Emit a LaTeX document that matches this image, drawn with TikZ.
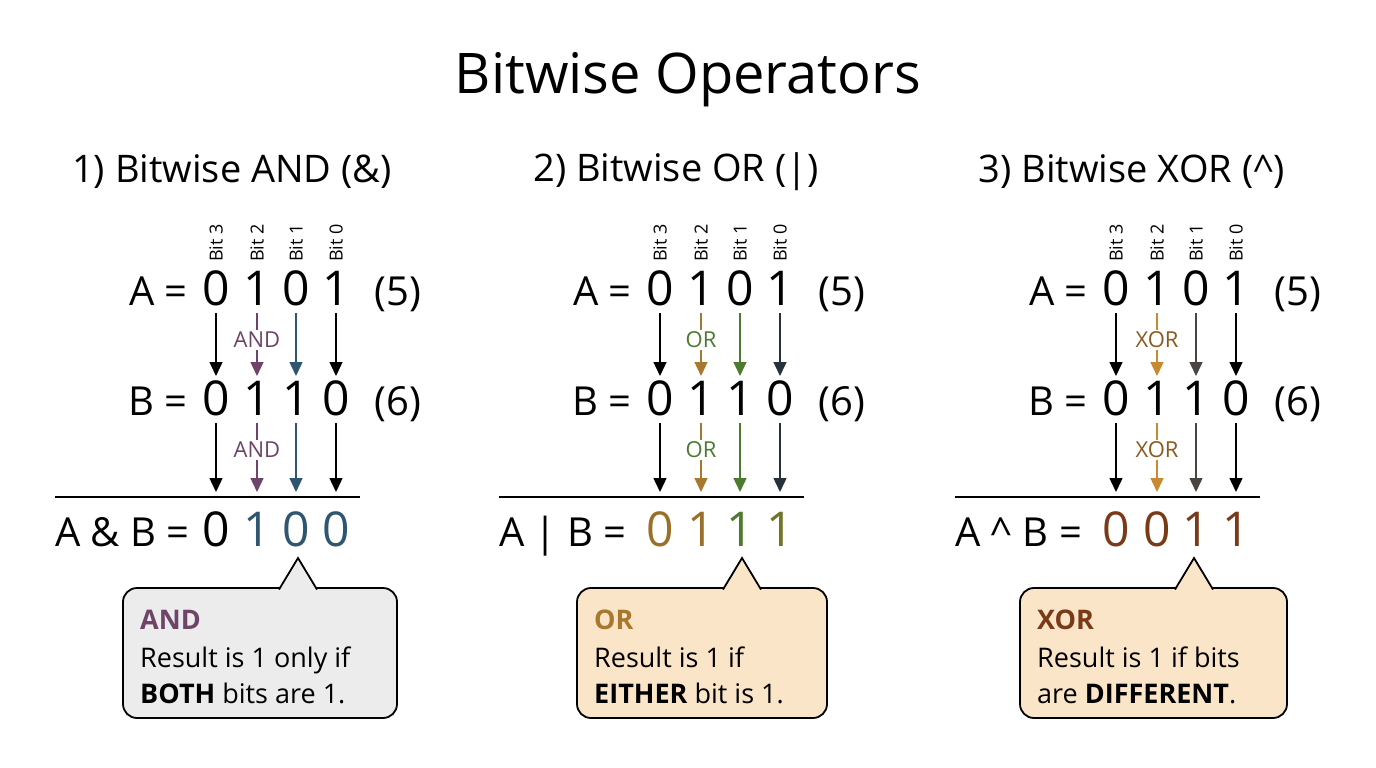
\documentclass[tikz,border=0pt]{standalone}
\usepackage{fontspec}
\setmainfont{Open Sans}
\usetikzlibrary{arrows.meta}
\definecolor{andc}{HTML}{6E4468}
\definecolor{andb}{HTML}{2E5670}
\definecolor{orc}{HTML}{A8782E}
\definecolor{org}{HTML}{4E7A30}
\definecolor{ord}{HTML}{26323A}
\definecolor{orr}{HTML}{9A7028}
\definecolor{orr2}{HTML}{707528}
\definecolor{xoc}{HTML}{C88A30}
\definecolor{xog}{HTML}{4A4540}
\definecolor{xor}{HTML}{7A3A18}
\definecolor{xol}{HTML}{8B5A20}
\definecolor{boxg}{HTML}{ECECEC}
\definecolor{boxp}{HTML}{FBE5C8}
\tikzset{
 dig/.style={font=\fontsize{48}{48}\selectfont, inner sep=0pt, anchor=base},
 lab/.style={font=\fontsize{40}{40}\selectfont, inner sep=0pt, anchor=base},
 bitl/.style={font=\fontsize{18}{18}\selectfont, rotate=90, anchor=west, inner sep=0pt},
 opl/.style={font=\fontsize{22}{22}\selectfont, inner sep=1pt},
 arr/.style={line width=1.4pt, -{Triangle[width=13pt,length=14pt]}},
 dsh/.style={line width=1.4pt},
 sec/.style={font=\fontsize{38}{38}\selectfont, inner sep=0pt},
 ctxt/.style={font=\fontsize{27}{27}\selectfont, inner sep=0pt, anchor=base west},
}
% #1 prefix, #2 xoff, #3 op label, #4 result label, #5 box fill, #6 box title, #7 line1, #8 line2, #9 title
\newcommand\mypanel[9]{%
\begin{scope}[xshift=#2]
 \node[sec] (#1-t) at (232,172) {#9};
 \foreach \x/\n [count=\i from 0] in {216/3,257/2,296/1,336/0}{
   \node[bitl] (#1-bit\n) at (\x,262) {Bit \n};}
 \node[lab,anchor=base east] (#1-al) at (188,305) {A =};
 \node[dig] (#1-a3) at (216,305) {0};
 \node[dig] (#1-a2) at (257,305) {1};
 \node[dig] (#1-a1) at (296,305) {0};
 \node[dig] (#1-a0) at (336,305) {1};
 \node[lab] (#1-a5) at (398,305) {(5)};
 \node[lab,anchor=base east] (#1-bl) at (188,415) {B =};
 \node[dig] (#1-b3) at (216,415) {0};
 \node[dig] (#1-b2) at (257,415) {1};
 \node[dig] (#1-b1) at (296,415) {1};
 \node[dig] (#1-b0) at (336,415) {0};
 \node[lab] (#1-b6) at (398,415) {(6)};
 \node[opl,text=\opcol] (#1-o1) at (257,340) {#3};
 \node[opl,text=\opcol] (#1-o2) at (257,450) {#3};
 \coordinate (#1-l1) at (55,497);
 \coordinate (#1-l2) at (360,497);
 \draw[line width=1.4pt] (#1-l1) -- (#1-l2);
 \node[dig] (#1-r3) at (216,546) {\textcolor{\rc3}{\rd3}};
 \node[dig] (#1-r2) at (257,546) {\textcolor{\rc2}{\rd2}};
 \node[dig] (#1-r1) at (296,546) {\textcolor{\rc1}{\rd1}};
 \node[dig] (#1-r0) at (336,546) {\textcolor{\rc0}{\rd0}};
 \node[lab,anchor=base west] (#1-rl) at (55,546) {#4};
 % arrows A->B
 \foreach \k/\c in {3/black,1/\cc1,0/\cc0}{
   \coordinate (#1-s\k) at (#1-a\k |- 0,313);
   \coordinate (#1-e\k) at (#1-a\k |- 0,376);
   \draw[arr,\c] (#1-s\k) -- (#1-e\k);
   \coordinate (#1-u\k) at (#1-b\k |- 0,423);
   \coordinate (#1-v\k) at (#1-b\k |- 0,492);
   \draw[arr,\c] (#1-u\k) -- (#1-v\k);}
 \coordinate (#1-s2) at (#1-a2 |- 0,313);
 \coordinate (#1-e2) at (#1-a2 |- 0,376);
 \coordinate (#1-u2) at (#1-b2 |- 0,423);
 \coordinate (#1-v2) at (#1-b2 |- 0,492);
 \draw[dsh,\cc2] (#1-s2) -- ([yshift=1pt]#1-o1.north);
 \draw[arr,\cc2] ([yshift=-1pt]#1-o1.south) -- (#1-e2);
 \draw[dsh,\cc2] (#1-u2) -- ([yshift=1pt]#1-o2.north);
 \draw[arr,\cc2] ([yshift=-1pt]#1-o2.south) -- (#1-v2);
 % callout
 \coordinate (#1-tip) at (\tipx,558);
 \draw[line width=1.8pt,fill=#5,rounded corners=14pt]
   (\bxl,588) -- (\bxr,588) -- (\bxr,718) -- (\bxl,718) -- cycle;
 \draw[line width=1.8pt,fill=#5,line join=miter]
   (\tipx-19,589.5) -- (#1-tip) -- (\tipx+19,589.5);
 \fill[#5] (\tipx-17.5,590.5) rectangle (\tipx+17.5,593);
 \node[ctxt,font=\fontsize{27}{27}\selectfont\bfseries,text=\ttcol] (#1-h) at (\bxl+17,629) {#6};
 \node[ctxt] (#1-c1) at (\bxl+17,667) {#7};
 \node[ctxt] (#1-c2) at (\bxl+17,703) {#8};
\end{scope}}
\begin{document}
\begin{tikzpicture}[x=1pt,y=-1pt]
\useasboundingbox (0,0) rectangle (1376,768);
\fill[white] (0,0) rectangle (1376,768);
\node[font=\fontsize{56}{56}\selectfont, inner sep=0pt] (title) at (688,80) {Bitwise Operators};
% AND
\def\opcol{andc}\def\ttcol{andc}
\def\cc#1{\ifcase#1 black\or andb\or andc\fi}
\def\rc#1{\ifcase#1 andb\or andb\or andb\or black\fi}
\def\rd#1{\ifcase#1 0\or 0\or 1\or 0\fi}
\def\tipx{298}\def\bxl{123}\def\bxr{397}
\mypanel{p1}{0}{AND}{A \& B =}{boxg}{AND}{Result is 1 only if}{\textbf{BOTH} bits are 1.}{1) Bitwise AND (\&)}
% OR
\def\opcol{org}\def\ttcol{orc}
\def\cc#1{\ifcase#1 ord\or org\or orc\fi}
\def\rc#1{\ifcase#1 orr2\or org\or orr\or orr\fi}
\def\rd#1{\ifcase#1 1\or 1\or 1\or 0\fi}
\def\tipx{298}\def\bxl{133}\def\bxr{383}
\mypanel{p2}{444}{OR}{A | B =}{boxp}{OR}{Result is 1 if}{\textbf{EITHER} bit is 1.}{2) Bitwise OR (|)}
% XOR
\def\opcol{xol}\def\ttcol{xor}
\def\cc#1{\ifcase#1 black\or xog\or xoc\fi}
\def\rc#1{\ifcase#1 xor\or xor\or xor\or xor\fi}
\def\rd#1{\ifcase#1 1\or 1\or 0\or 0\fi}
\def\tipx{294}\def\bxl{120}\def\bxr{387}
\mypanel{p3}{900}{XOR}{A \^{} B =}{boxp}{XOR}{Result is 1 if bits}{are \textbf{DIFFERENT}.}{3) Bitwise XOR (\^{})}
\end{tikzpicture}
\end{document}
